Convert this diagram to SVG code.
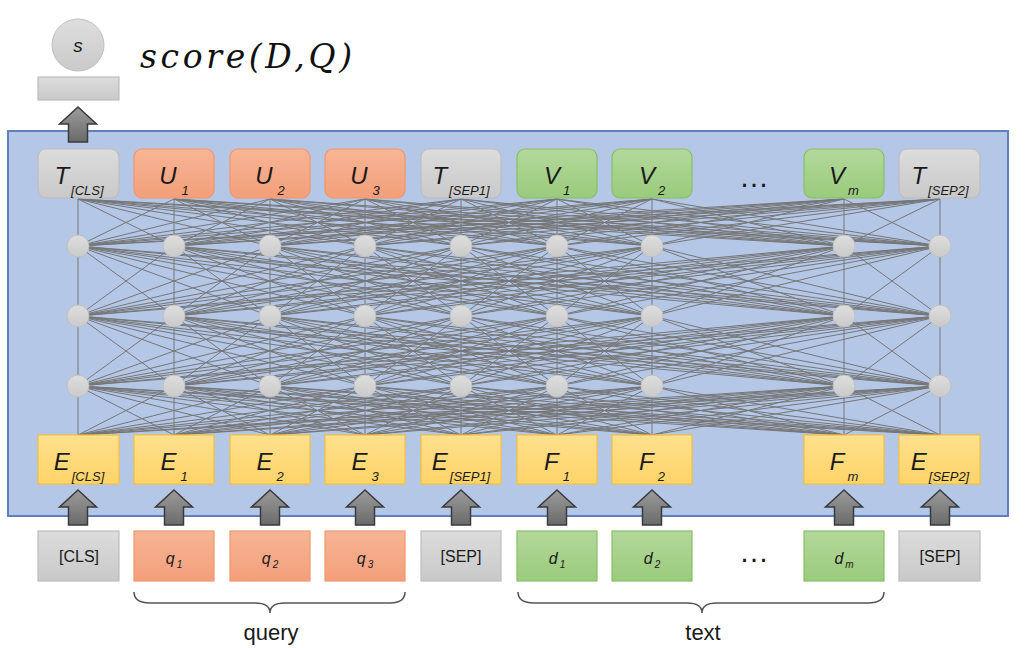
<svg xmlns="http://www.w3.org/2000/svg" xmlns:xlink="http://www.w3.org/1999/xlink" width="1026" height="648" viewBox="0 0 1026 648">
<style>
.lbl{font-family:"Liberation Sans",Arial,sans-serif;fill:#1a1a1a;text-anchor:middle}
.it{font-style:italic}
.big{font-size:24px}
.sub{font-size:13px}
.mid{font-size:16px}
.sm{font-size:10px}
.gray{fill:url(#gGray);stroke:#bdbdbd;stroke-width:1.2}
.org{fill:url(#gOrg);stroke:#f0966c;stroke-width:1.2}
.grn{fill:url(#gGrn);stroke:#86c066;stroke-width:1.2}
.yel{fill:url(#gYel);stroke:#f4c03e;stroke-width:1.2}
.circ{fill:url(#gCirc);stroke:#c0c0c0;stroke-width:1}
.net{fill:none;stroke:#767676;stroke-width:1;vector-effect:non-scaling-stroke}
.arr{fill:url(#gArr);stroke:#3a3a3a;stroke-width:1.5}
.brace{fill:none;stroke:#555;stroke-width:1.5}
</style>
<defs>
<linearGradient id="gGray" x1="0" y1="0" x2="0" y2="1"><stop offset="0" stop-color="#dcdcdc"/><stop offset="1" stop-color="#c9c9c9"/></linearGradient>
<linearGradient id="gOrg" x1="0" y1="0" x2="0" y2="1"><stop offset="0" stop-color="#f7b595"/><stop offset="1" stop-color="#f39f7a"/></linearGradient>
<linearGradient id="gGrn" x1="0" y1="0" x2="0" y2="1"><stop offset="0" stop-color="#b3d89b"/><stop offset="1" stop-color="#9acb7c"/></linearGradient>
<linearGradient id="gYel" x1="0" y1="0" x2="0" y2="1"><stop offset="0" stop-color="#ffe08e"/><stop offset="1" stop-color="#ffd468"/></linearGradient>
<linearGradient id="gCirc" x1="0" y1="0" x2="0" y2="1"><stop offset="0" stop-color="#dedede"/><stop offset="1" stop-color="#cacaca"/></linearGradient>
<linearGradient id="gArr" x1="0" y1="0" x2="0" y2="1"><stop offset="0" stop-color="#9c9c9c"/><stop offset="1" stop-color="#6a6a6a"/></linearGradient>
<path id="arrow" class="arr" d="M0 0L18.5 17H9.5V35H-9.5V17H-18.5Z"/>
<path id="band" class="net" d="M78 0L78 1M78 0L174 1M78 0L270 1M78 0L365 1M78 0L461 1M78 0L557 1M78 0L652 1M78 0L844 1M78 0L940 1M174 0L78 1M174 0L174 1M174 0L270 1M174 0L365 1M174 0L461 1M174 0L557 1M174 0L652 1M174 0L844 1M174 0L940 1M270 0L78 1M270 0L174 1M270 0L270 1M270 0L365 1M270 0L461 1M270 0L557 1M270 0L652 1M270 0L844 1M270 0L940 1M365 0L78 1M365 0L174 1M365 0L270 1M365 0L365 1M365 0L461 1M365 0L557 1M365 0L652 1M365 0L844 1M365 0L940 1M461 0L78 1M461 0L174 1M461 0L270 1M461 0L365 1M461 0L461 1M461 0L557 1M461 0L652 1M461 0L844 1M461 0L940 1M557 0L78 1M557 0L174 1M557 0L270 1M557 0L365 1M557 0L461 1M557 0L557 1M557 0L652 1M557 0L844 1M557 0L940 1M652 0L78 1M652 0L174 1M652 0L270 1M652 0L365 1M652 0L461 1M652 0L557 1M652 0L652 1M652 0L844 1M652 0L940 1M844 0L78 1M844 0L174 1M844 0L270 1M844 0L365 1M844 0L461 1M844 0L557 1M844 0L652 1M844 0L844 1M844 0L940 1M940 0L78 1M940 0L174 1M940 0L270 1M940 0L365 1M940 0L461 1M940 0L557 1M940 0L652 1M940 0L844 1M940 0L940 1"/>
</defs>
<rect width="1026" height="648" fill="#ffffff"/>

<g id="score">
<circle class="circ" cx="78" cy="45" r="26"/>
<text class="lbl it" x="78" y="52" font-size="19">s</text>
<rect class="gray" x="38" y="77" width="81" height="23"/>
<text x="140" y="68" font-family="'DejaVu Serif',serif" font-style="italic" font-size="33" fill="#111" textLength="212" lengthAdjust="spacing">score(D,Q)</text>
</g>

<g id="encoder">
<rect x="8" y="131" width="1000" height="385" fill="#b4c7e7" stroke="#5f80bd" stroke-width="2"/>
</g>

<g id="connectors">
<use xlink:href="#band" href="#band" transform="translate(0,199) scale(1,47)"/>
<use xlink:href="#band" href="#band" transform="translate(0,246) scale(1,70)"/>
<use xlink:href="#band" href="#band" transform="translate(0,316) scale(1,70)"/>
<use xlink:href="#band" href="#band" transform="translate(0,386) scale(1,49)"/>
<use xlink:href="#arrow" href="#arrow" transform="translate(78,107)"/>
<use xlink:href="#arrow" href="#arrow" transform="translate(78,490)"/>
<use xlink:href="#arrow" href="#arrow" transform="translate(174,490)"/>
<use xlink:href="#arrow" href="#arrow" transform="translate(270,490)"/>
<use xlink:href="#arrow" href="#arrow" transform="translate(365,490)"/>
<use xlink:href="#arrow" href="#arrow" transform="translate(461,490)"/>
<use xlink:href="#arrow" href="#arrow" transform="translate(557,490)"/>
<use xlink:href="#arrow" href="#arrow" transform="translate(652,490)"/>
<use xlink:href="#arrow" href="#arrow" transform="translate(844,490)"/>
<use xlink:href="#arrow" href="#arrow" transform="translate(940,490)"/>
</g>

<g id="hidden-nodes">
<circle class="circ" cx="78" cy="246" r="11"/><circle class="circ" cx="174" cy="246" r="11"/><circle class="circ" cx="270" cy="246" r="11"/><circle class="circ" cx="365" cy="246" r="11"/><circle class="circ" cx="461" cy="246" r="11"/><circle class="circ" cx="557" cy="246" r="11"/><circle class="circ" cx="652" cy="246" r="11"/><circle class="circ" cx="844" cy="246" r="11"/><circle class="circ" cx="940" cy="246" r="11"/>
<circle class="circ" cx="78" cy="316" r="11"/><circle class="circ" cx="174" cy="316" r="11"/><circle class="circ" cx="270" cy="316" r="11"/><circle class="circ" cx="365" cy="316" r="11"/><circle class="circ" cx="461" cy="316" r="11"/><circle class="circ" cx="557" cy="316" r="11"/><circle class="circ" cx="652" cy="316" r="11"/><circle class="circ" cx="844" cy="316" r="11"/><circle class="circ" cx="940" cy="316" r="11"/>
<circle class="circ" cx="78" cy="386" r="11"/><circle class="circ" cx="174" cy="386" r="11"/><circle class="circ" cx="270" cy="386" r="11"/><circle class="circ" cx="365" cy="386" r="11"/><circle class="circ" cx="461" cy="386" r="11"/><circle class="circ" cx="557" cy="386" r="11"/><circle class="circ" cx="652" cy="386" r="11"/><circle class="circ" cx="844" cy="386" r="11"/><circle class="circ" cx="940" cy="386" r="11"/>
</g>

<g id="T_CLS"><rect class="gray" x="38" y="149" width="81" height="49" rx="8"/><text class="lbl it big" x="79" y="184">T<tspan class="sub" dx="2" dy="11">[CLS]</tspan></text></g>
<g id="U1"><rect class="org" x="134" y="149" width="80" height="49" rx="8"/><text class="lbl it big" x="174" y="184">U<tspan class="sub" dx="5" dy="11">1</tspan></text></g>
<g id="U2"><rect class="org" x="230" y="149" width="80" height="49" rx="8"/><text class="lbl it big" x="270" y="184">U<tspan class="sub" dx="5" dy="11">2</tspan></text></g>
<g id="U3"><rect class="org" x="325" y="149" width="80" height="49" rx="8"/><text class="lbl it big" x="365" y="184">U<tspan class="sub" dx="5" dy="11">3</tspan></text></g>
<g id="T_SEP1"><rect class="gray" x="421" y="149" width="80" height="49" rx="8"/><text class="lbl it big" x="461" y="184">T<tspan class="sub" dx="2" dy="11">[SEP1]</tspan></text></g>
<g id="V1"><rect class="grn" x="517" y="149" width="80" height="49" rx="8"/><text class="lbl it big" x="557" y="184">V<tspan class="sub" dx="3" dy="11">1</tspan></text></g>
<g id="V2"><rect class="grn" x="612" y="149" width="80" height="49" rx="8"/><text class="lbl it big" x="652" y="184">V<tspan class="sub" dx="3" dy="11">2</tspan></text></g>
<g id="dots-top"><text class="lbl" x="754" y="187" font-size="30">…</text></g>
<g id="Vm"><rect class="grn" x="804" y="149" width="80" height="49" rx="8"/><text class="lbl it big" x="844" y="184">V<tspan class="sub" dx="3" dy="11">m</tspan></text></g>
<g id="T_SEP2"><rect class="gray" x="899" y="149" width="81" height="49" rx="8"/><text class="lbl it big" x="940" y="184">T<tspan class="sub" dx="2" dy="11">[SEP2]</tspan></text></g>

<g id="E_CLS"><rect class="yel" x="38" y="435" width="81" height="49"/><text class="lbl it big" x="79" y="470">E<tspan class="sub" dx="2" dy="11">[CLS]</tspan></text></g>
<g id="E1"><rect class="yel" x="134" y="435" width="80" height="49"/><text class="lbl it big" x="174" y="470">E<tspan class="sub" dx="4" dy="11">1</tspan></text></g>
<g id="E2"><rect class="yel" x="230" y="435" width="80" height="49"/><text class="lbl it big" x="270" y="470">E<tspan class="sub" dx="4" dy="11">2</tspan></text></g>
<g id="E3"><rect class="yel" x="325" y="435" width="80" height="49"/><text class="lbl it big" x="365" y="470">E<tspan class="sub" dx="4" dy="11">3</tspan></text></g>
<g id="E_SEP1"><rect class="yel" x="421" y="435" width="80" height="49"/><text class="lbl it big" x="461" y="470">E<tspan class="sub" dx="2" dy="11">[SEP1]</tspan></text></g>
<g id="F1"><rect class="yel" x="517" y="435" width="80" height="49"/><text class="lbl it big" x="557" y="470">F<tspan class="sub" dx="4" dy="11">1</tspan></text></g>
<g id="F2"><rect class="yel" x="612" y="435" width="80" height="49"/><text class="lbl it big" x="652" y="470">F<tspan class="sub" dx="4" dy="11">2</tspan></text></g>
<g id="Fm"><rect class="yel" x="804" y="435" width="80" height="49"/><text class="lbl it big" x="844" y="470">F<tspan class="sub" dx="3" dy="11">m</tspan></text></g>
<g id="E_SEP2"><rect class="yel" x="899" y="435" width="81" height="49"/><text class="lbl it big" x="940" y="470">E<tspan class="sub" dx="2" dy="11">[SEP2]</tspan></text></g>

<g id="in_CLS"><rect class="gray" x="38" y="531" width="81" height="50"/><text class="lbl mid" x="79" y="562">[CLS]</text></g>
<g id="q1"><rect class="org" x="134" y="531" width="80" height="50"/><text class="lbl it mid" x="174" y="564">q<tspan class="sm" dx="2" dy="4">1</tspan></text></g>
<g id="q2"><rect class="org" x="230" y="531" width="80" height="50"/><text class="lbl it mid" x="270" y="564">q<tspan class="sm" dx="2" dy="4">2</tspan></text></g>
<g id="q3"><rect class="org" x="325" y="531" width="80" height="50"/><text class="lbl it mid" x="365" y="564">q<tspan class="sm" dx="2" dy="4">3</tspan></text></g>
<g id="in_SEP1"><rect class="gray" x="421" y="531" width="80" height="50"/><text class="lbl mid" x="461" y="562">[SEP]</text></g>
<g id="d1"><rect class="grn" x="517" y="531" width="80" height="50"/><text class="lbl it mid" x="557" y="564">d<tspan class="sm" dx="2" dy="4">1</tspan></text></g>
<g id="d2"><rect class="grn" x="612" y="531" width="80" height="50"/><text class="lbl it mid" x="652" y="564">d<tspan class="sm" dx="2" dy="4">2</tspan></text></g>
<g id="dots-bottom"><text class="lbl" x="754" y="562" font-size="30">…</text></g>
<g id="dm"><rect class="grn" x="804" y="531" width="80" height="50"/><text class="lbl it mid" x="844" y="564">d<tspan class="sm" dx="2" dy="4">m</tspan></text></g>
<g id="in_SEP2"><rect class="gray" x="899" y="531" width="81" height="50"/><text class="lbl mid" x="940" y="562">[SEP]</text></g>

<g id="query-brace">
<path class="brace" d="M134 592Q134 603 150 603L255 603Q270 603 270 613Q270 603 285 603L390 603Q405 603 405 592"/>
<text class="lbl" x="271" y="640" font-size="22">query</text>
</g>
<g id="text-brace">
<path class="brace" d="M518 592Q518 603 534 603L687 603Q702 603 702 613Q702 603 717 603L868 603Q884 603 884 592"/>
<text class="lbl" x="703" y="640" font-size="22">text</text>
</g>
</svg>
